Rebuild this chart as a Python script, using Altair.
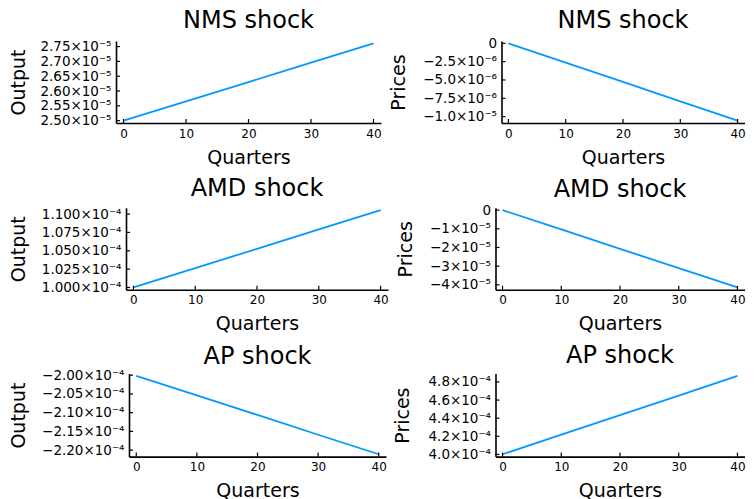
import altair as alt
import pandas as pd

# ---------------- data ----------------
quarters = [0, 10, 20, 30, 40]
x_ticks = [0, 10, 20, 30, 40]

nms_output = [2.500e-5, 2.565e-5, 2.630e-5, 2.696e-5, 2.761e-5]
nms_prices = [0.0, -0.264e-5, -0.527e-5, -0.791e-5, -1.055e-5]
amd_output = [1.0000e-4, 1.0264e-4, 1.0527e-4, 1.0791e-4, 1.1054e-4]
amd_prices = [0.0, -1.036e-5, -2.072e-5, -3.107e-5, -4.143e-5]
ap_output = [-2.002e-4, -2.054e-4, -2.106e-4, -2.159e-4, -2.211e-4]
ap_prices = [4.002e-4, 4.218e-4, 4.434e-4, 4.650e-4, 4.866e-4]

nms_output_ticks = [2.50e-5, 2.55e-5, 2.60e-5, 2.65e-5, 2.70e-5, 2.75e-5]
nms_output_labels = ["2.50×10⁻⁵", "2.55×10⁻⁵", "2.60×10⁻⁵", "2.65×10⁻⁵", "2.70×10⁻⁵", "2.75×10⁻⁵"]
nms_prices_ticks = [0.0, -2.5e-6, -5.0e-6, -7.5e-6, -1.0e-5]
nms_prices_labels = ["0", "−2.5×10⁻⁶", "−5.0×10⁻⁶", "−7.5×10⁻⁶", "−1.0×10⁻⁵"]
amd_output_ticks = [1.000e-4, 1.025e-4, 1.050e-4, 1.075e-4, 1.100e-4]
amd_output_labels = ["1.000×10⁻⁴", "1.025×10⁻⁴", "1.050×10⁻⁴", "1.075×10⁻⁴", "1.100×10⁻⁴"]
amd_prices_ticks = [0.0, -1e-5, -2e-5, -3e-5, -4e-5]
amd_prices_labels = ["0", "−1×10⁻⁵", "−2×10⁻⁵", "−3×10⁻⁵", "−4×10⁻⁵"]
ap_output_ticks = [-2.00e-4, -2.05e-4, -2.10e-4, -2.15e-4, -2.20e-4]
ap_output_labels = ["−2.00×10⁻⁴", "−2.05×10⁻⁴", "−2.10×10⁻⁴", "−2.15×10⁻⁴", "−2.20×10⁻⁴"]
ap_prices_ticks = [4.0e-4, 4.2e-4, 4.4e-4, 4.6e-4, 4.8e-4]
ap_prices_labels = ["4.0×10⁻⁴", "4.2×10⁻⁴", "4.4×10⁻⁴", "4.6×10⁻⁴", "4.8×10⁻⁴"]

FONT = "DejaVu Sans"
BLUE = "#009AFA"
ROW_SPACING = 6.5


def label_expr(vals, labels):
    step = min(abs(vals[i + 1] - vals[i]) for i in range(len(vals) - 1))
    eps = step * 1e-3
    expr = "''"
    for v, lab in reversed(list(zip(vals, labels))):
        expr = f"abs(datum.value - ({v!r})) < {eps!r} ? '{lab}' : ({expr})"
    return expr


def panel(title, ytitle, yvals, yticks, ylabels, width, height, title_x, title_offset):
    lo, hi = min(yvals), max(yvals)
    pad = 0.03 * (hi - lo)
    xscale = alt.Scale(domain=[-1.2, 41.2], nice=False, zero=False)
    yscale = alt.Scale(domain=[lo - pad, hi + pad], nice=False, zero=False)
    xaxis = alt.Axis(values=x_ticks, title="Quarters", format="d",
                     labelFlush=False, labelOverlap=False, titlePadding=9)
    yaxis = alt.Axis(values=yticks, title=ytitle,
                     labelExpr=label_expr(yticks, ylabels),
                     labelFlush=False, labelOverlap=False, labelFontSize=13.5,
                     titleX=title_x, titleY=height / 2,
                     titleBaseline="alphabetic", titleAlign="center", titleAngle=270)

    df = pd.DataFrame({"q": quarters, "v": yvals})
    line = alt.Chart(df).mark_line(color=BLUE, strokeWidth=1.8).encode(
        x=alt.X("q:Q", scale=xscale, axis=xaxis),
        y=alt.Y("v:Q", scale=yscale, axis=yaxis),
    )
    yt = alt.Chart(pd.DataFrame({"v": yticks})).mark_rule(color="black", strokeWidth=1.2).encode(
        y=alt.Y("v:Q", scale=yscale, axis=yaxis),
        x=alt.value(0), x2=alt.value(4),
    )
    xt = alt.Chart(pd.DataFrame({"q": x_ticks})).mark_rule(color="black", strokeWidth=1.2).encode(
        x=alt.X("q:Q", scale=xscale, axis=xaxis),
        y=alt.value(height), y2=alt.value(height - 4),
    )
    return alt.layer(line, yt, xt).properties(
        width=width, height=height,
        title=alt.TitleParams(title, fontSize=24, font=FONT, fontWeight="normal",
                              baseline="alphabetic", offset=title_offset, color="black"),
    )


def spacer():
    return alt.Chart(pd.DataFrame({"a": [0]})).mark_text(text="").encode(
        x=alt.value(0), y=alt.value(0)
    ).properties(width=1, height=1)


p1 = panel("NMS shock", "Output", nms_output, nms_output_ticks, nms_output_labels, 265, 82, 26 - 118, -12)
p2 = panel("NMS shock", "Prices", nms_prices, nms_prices_ticks, nms_prices_labels, 243, 82, 406.5 - 504, -15.3)
p3 = panel("AMD shock", "Output", amd_output, amd_output_ticks, amd_output_labels, 262, 82, 26 - 127.7, -13.4)
p4 = panel("AMD shock", "Prices", amd_prices, amd_prices_ticks, amd_prices_labels, 249, 82, 413.5 - 497.7, -17.4)
p5 = panel("AP shock", "Output", ap_output, ap_output_ticks, ap_output_labels, 257, 83, 26 - 131, -20.3)
p6 = panel("AP shock", "Prices", ap_prices, ap_prices_ticks, ap_prices_labels, 249, 83, 411.5 - 498.3, -14.5)

row1 = alt.hconcat(spacer(), p1, p2, spacing=ROW_SPACING)
row2 = alt.hconcat(spacer(), p3, p4, spacing=ROW_SPACING)
row3 = alt.hconcat(spacer(), p5, p6, spacing=ROW_SPACING)

chart = alt.concat(row1, row2, row3, columns=1, spacing=9.8, align="none").properties(
    padding={"top": 0, "left": -6.5, "right": 0, "bottom": 0}
).configure_view(
    stroke=None
).configure_axis(
    domainColor="black", domainWidth=1.6, ticks=False, tickSize=0, grid=False,
    labelFont=FONT, labelFontSize=12, labelColor="black", labelPadding=5,
    titleFont=FONT, titleFontSize=19, titleFontWeight="normal", titleColor="black",
)

chart.save("out.html", embed_options={"renderer": "svg", "actions": False})
